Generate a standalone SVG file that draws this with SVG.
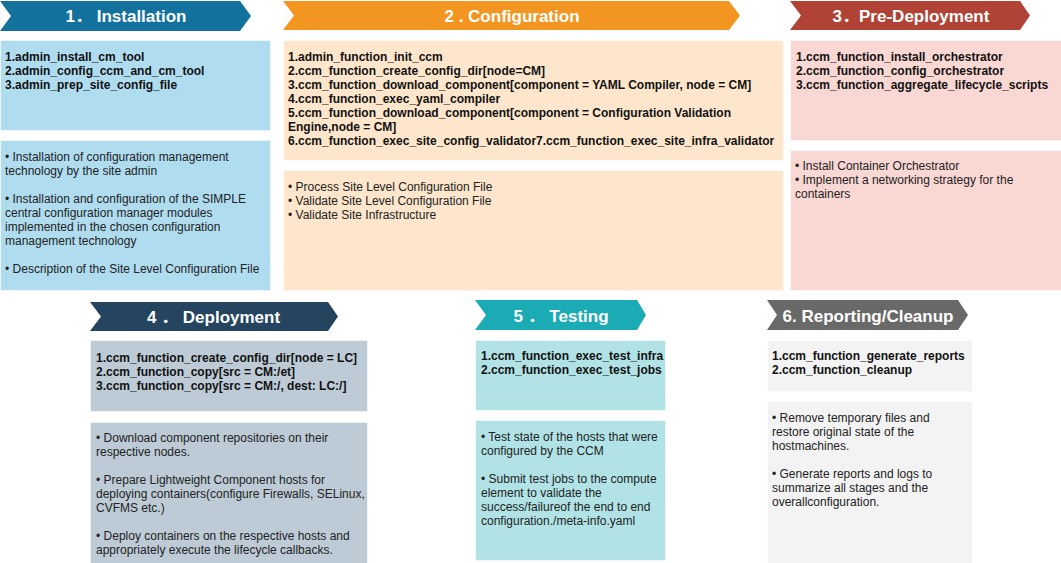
<svg xmlns="http://www.w3.org/2000/svg" width="1061" height="563" viewBox="0 0 1061 563">
<style>
.hd{font-family:"Liberation Sans","Noto Sans CJK JP",Arial,sans-serif;font-size:17px;font-weight:bold;fill:#fff;text-anchor:middle}
.b{font-family:"Liberation Sans",Arial,sans-serif;font-size:12px;font-weight:bold;fill:#111}
.r{font-family:"Liberation Sans",Arial,sans-serif;font-size:12px;fill:#222}
.box{stroke:#ffffff;stroke-opacity:0.5;stroke-width:1}
</style>
<rect width="1061" height="563" fill="#ffffff"/>
<g id="stage1">
<polygon points="0,1 240,1 251,16 240,31 0,31 11,16" fill="#13719e"/>
<text class="hd" x="126" y="22">1． Installation</text>
<rect class="box" x="0.5" y="40.5" width="270" height="90" fill="#b0dcf0"/>
<text class="b" x="5" y="61">1.admin_install_cm_tool</text>
<text class="b" x="5" y="75">2.admin_config_ccm_and_cm_tool</text>
<text class="b" x="5" y="89">3.admin_prep_site_config_file</text>
<rect class="box" x="0.5" y="140.5" width="270" height="150" fill="#b0dcf0"/>
<text class="r" x="5" y="161">• Installation of configuration management</text>
<text class="r" x="5" y="175">technology by the site admin</text>
<text class="r" x="5" y="203">• Installation and configuration of the SIMPLE</text>
<text class="r" x="5" y="217">central configuration manager modules</text>
<text class="r" x="5" y="231">implemented in the chosen configuration</text>
<text class="r" x="5" y="245">management technology</text>
<text class="r" x="5" y="273">• Description of the Site Level Configuration File</text>
</g>
<g id="stage2">
<polygon points="283,1 729,1 740,15.5 729,30 283,30 294,15.5" fill="#f39621"/>
<text class="hd" x="512" y="22">2 . Configuration</text>
<rect class="box" x="283.5" y="40.5" width="500" height="120" fill="#fde6cc"/>
<text class="b" x="288" y="61">1.admin_function_init_ccm</text>
<text class="b" x="288" y="75">2.ccm_function_create_config_dir[node=CM]</text>
<text class="b" x="288" y="89">3.ccm_function_download_component[component = YAML Compiler, node = CM]</text>
<text class="b" x="288" y="103">4.ccm_function_exec_yaml_compiler</text>
<text class="b" x="288" y="117">5.ccm_function_download_component[component = Configuration Validation</text>
<text class="b" x="288" y="131">Engine,node = CM]</text>
<text class="b" x="288" y="145">6.ccm_function_exec_site_config_validator7.ccm_function_exec_site_infra_validator</text>
<rect class="box" x="283.5" y="170.5" width="500" height="120" fill="#fde6cc"/>
<text class="r" x="288" y="191">• Process Site Level Configuration File</text>
<text class="r" x="288" y="205">• Validate Site Level Configuration File</text>
<text class="r" x="288" y="219">• Validate Site Infrastructure</text>
</g>
<g id="stage3">
<polygon points="790,1 1020,1 1030,15.5 1020,30 790,30 801,15.5" fill="#b14236"/>
<text class="hd" x="911" y="22">3．Pre-Deployment</text>
<rect class="box" x="790.5" y="40.5" width="271" height="100" fill="#f9d7d3"/>
<text class="b" x="796" y="61">1.ccm_function_install_orchestrator</text>
<text class="b" x="796" y="75">2.ccm_function_config_orchestrator</text>
<text class="b" x="796" y="89">3.ccm_function_aggregate_lifecycle_scripts</text>
<rect class="box" x="790.5" y="150.5" width="271" height="140" fill="#f9d7d3"/>
<text class="r" x="795" y="170">• Install Container Orchestrator</text>
<text class="r" x="795" y="184">• Implement a networking strategy for the</text>
<text class="r" x="795" y="198">containers</text>
</g>
<g id="stage4">
<polygon points="90,302 328,302 338,316.5 328,331 90,331 101,316.5" fill="#24445f"/>
<text class="hd" x="213.5" y="323">4 ． Deployment</text>
<rect class="box" x="90.5" y="340.5" width="277" height="71" fill="#bdcbd6"/>
<text class="b" x="96" y="362">1.ccm_function_create_config_dir[node = LC]</text>
<text class="b" x="96" y="376">2.ccm_function_copy[src = CM:/et]</text>
<text class="b" x="96" y="390">3.ccm_function_copy[src = CM:/, dest: LC:/]</text>
<rect class="box" x="90.5" y="422.5" width="277" height="142" fill="#bdcbd6"/>
<text class="r" x="96" y="442">• Download component repositories on their</text>
<text class="r" x="96" y="456">respective nodes.</text>
<text class="r" x="96" y="484">• Prepare Lightweight Component hosts for</text>
<text class="r" x="96" y="498">deploying containers(configure Firewalls, SELinux,</text>
<text class="r" x="96" y="512">CVFMS etc.)</text>
<text class="r" x="96" y="540">• Deploy containers on the respective hosts and</text>
<text class="r" x="96" y="554">appropriately execute the lifecycle callbacks.</text>
</g>
<g id="stage5">
<polygon points="475,300 637,300 646,315 637,330 475,330 486,315" fill="#1aabb5"/>
<text class="hd" x="561" y="321.5">5 ． Testing</text>
<rect class="box" x="475.5" y="340.5" width="190" height="70" fill="#b1e3e6"/>
<text class="b" x="481" y="360">1.ccm_function_exec_test_infra</text>
<text class="b" x="481" y="374">2.ccm_function_exec_test_jobs</text>
<rect class="box" x="475.5" y="420.5" width="190" height="140" fill="#b1e3e6"/>
<text class="r" x="481" y="441">• Test state of the hosts that were</text>
<text class="r" x="481" y="455">configured by the CCM</text>
<text class="r" x="481" y="483">• Submit test jobs to the compute</text>
<text class="r" x="481" y="497">element to validate the</text>
<text class="r" x="481" y="511">success/failureof the end to end</text>
<text class="r" x="481" y="525">configuration./meta-info.yaml</text>
</g>
<g id="stage6">
<polygon points="767,300 958,300 968,315 958,330 767,330 777,315" fill="#696969"/>
<text class="hd" x="868" y="321.5">6. Reporting/Cleanup</text>
<rect class="box" x="767.5" y="340.5" width="205" height="51" fill="#f3f3f3"/>
<text class="b" x="772" y="360">1.ccm_function_generate_reports</text>
<text class="b" x="772" y="374">2.ccm_function_cleanup</text>
<rect class="box" x="767.5" y="401.5" width="205" height="163" fill="#f3f3f3"/>
<text class="r" x="772" y="422">• Remove temporary files and</text>
<text class="r" x="772" y="436">restore original state of the</text>
<text class="r" x="772" y="450">hostmachines.</text>
<text class="r" x="772" y="478">• Generate reports and logs to</text>
<text class="r" x="772" y="492">summarize all stages and the</text>
<text class="r" x="772" y="506">overallconfiguration.</text>
</g>
<g id="connectors"/>
</svg>
